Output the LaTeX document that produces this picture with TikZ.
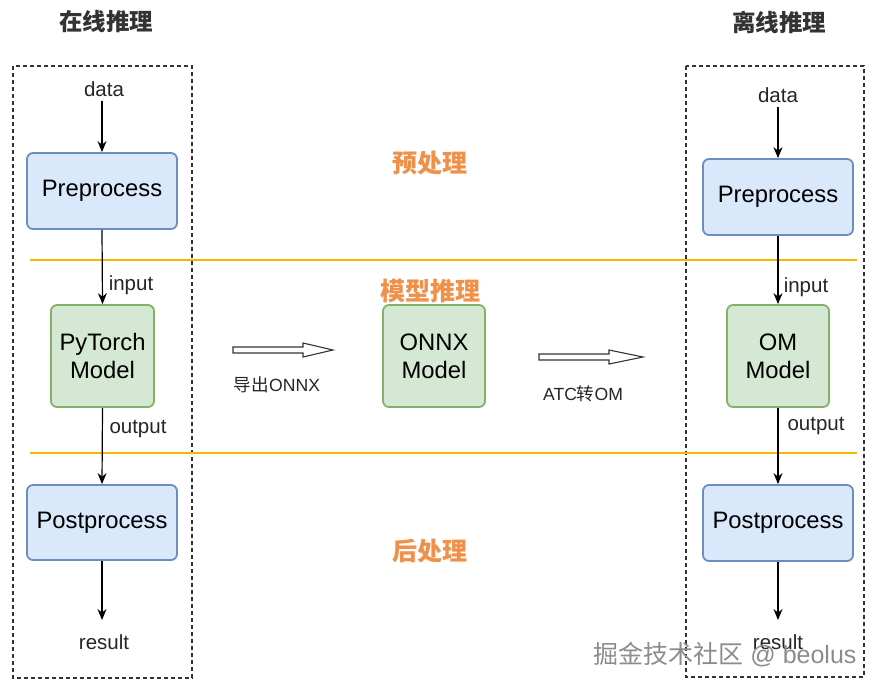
\documentclass[tikz,border=0pt]{standalone}
\usepackage{fontspec}
\setmainfont{Liberation Sans}
\newfontfamily\cjk{Noto Sans CJK SC}
\usetikzlibrary{arrows.meta}
\definecolor{bluefill}{HTML}{DAE8FC}
\definecolor{bluedraw}{HTML}{6C8EBF}
\definecolor{greenfill}{HTML}{D5E8D4}
\definecolor{greendraw}{HTML}{82B366}
\definecolor{sepline}{HTML}{F5B700}
\definecolor{orangetxt}{HTML}{F0914A}
\definecolor{titletxt}{HTML}{333333}
\tikzset{
  box/.style={draw, rounded corners=6pt, line width=1.8pt, inner sep=0pt, align=center,
              font=\fontsize{23.8}{28}\selectfont},
  bluebox/.style={box, fill=bluefill, draw=bluedraw},
  greenbox/.style={box, fill=greenfill, draw=greendraw},
  lbl/.style={font=\fontsize{20.5}{22}\selectfont, text=black!85, inner sep=0pt},
  conn/.style={line width=1.2pt, -{Stealth[length=11pt,width=9pt]}},
  frame/.style={draw=black!80, line width=1.3pt, dash pattern=on 4pt off 3pt},
  sep/.style={draw=sepline, line width=2pt},
  zone/.style={font=\cjk\bfseries\fontsize{25}{28}\selectfont, text=orangetxt},
  title/.style={font=\cjk\bfseries\fontsize{23.5}{27}\selectfont, text=titletxt},
  hollow/.style={draw=black!80, fill=white, line width=1.1pt},
  small/.style={font=\fontsize{17.6}{19}\selectfont, text=black!85}
}
\begin{document}
\begin{tikzpicture}[x=1pt,y=-1pt]
\useasboundingbox (0,0) rectangle (878,689);
\fill[white] (0,0) rectangle (878,689);

% titles
\node[title] (t1) at (106,22) {在线推理};
\node[title] (t2) at (779,22) {离线推理};

% frames
\draw[frame] (13,66) rectangle (192,678);
\draw[frame] (686,66) rectangle (864,677);

% separators
\coordinate (s1a) at (30,260); \coordinate (s1b) at (857,260);
\coordinate (s2a) at (30,453); \coordinate (s2b) at (857,453);
\draw[sep] (s1a) -- (s1b);
\draw[sep] (s2a) -- (s2b);

% zone labels
\node[zone] (z1) at (430,163) {预处理};
\node[zone] (z2) at (430,291) {模型推理};
\node[zone] (z3) at (430,551) {后处理};

% left column
\node[lbl] (ldata) at (104,89) {data};
\node[bluebox, minimum width=150pt, minimum height=76pt] (lpre) at (102,191) {Preprocess};
\node[greenbox, minimum width=103pt, minimum height=102pt] (lpt) at (102.5,356) {PyTorch\\Model};
\node[bluebox, minimum width=150pt, minimum height=75pt] (lpost) at (102,522.5) {Postprocess};
\node[lbl] (lres) at (104,642) {result};
\node[lbl] (lin) at (131,285) {input};
\node[lbl] (lout) at (138,429) {output};
\coordinate (lresend) at (102,620);
\draw[conn] (ldata.south -| lpre.north) ++(0,4) -- (lpre.north);
\draw[conn] (lpre.south) -- (lpt.north);
\draw[conn] (lpt.south) -- (lpost.north);
\draw[conn] (lpost.south) -- (lresend);

% right column
\node[lbl] (rdata) at (778,95) {data};
\node[bluebox, minimum width=150pt, minimum height=76pt] (rpre) at (778,197) {Preprocess};
\node[greenbox, minimum width=102pt, minimum height=102pt] (rom) at (778,356) {OM\\Model};
\node[bluebox, minimum width=150pt, minimum height=76pt] (rpost) at (778,523) {Postprocess};
\node[lbl] (rres) at (778,642) {result};
\node[lbl] (rin) at (806,287) {input};
\node[lbl] (rout) at (816,426) {output};
\coordinate (rresend) at (778,620);
\draw[conn] (rdata.south) ++(0,4) -- (rpre.north);
\draw[conn] (rpre.south) -- (rom.north);
\draw[conn] (rom.south) -- (rpost.north);
\draw[conn] (rpost.south) -- (rresend);

% middle
\node[greenbox, minimum width=102pt, minimum height=102pt] (onnx) at (434,356) {ONNX\\Model};

% hollow arrows
\draw[hollow] (233,347) -- (303,347) -- (303,343) -- (333,350) -- (303,357) -- (303,353) -- (233,353) -- cycle;
\node[small] (e1) at (277,385) {{\cjk 导出}ONNX};
\draw[hollow] (539,354) -- (609,354) -- (609,350) -- (643,357) -- (609,364) -- (609,360) -- (539,360) -- cycle;
\node[small] (e2) at (583,394) {ATC{\cjk 转}OM};

% watermark
\node[font=\fontsize{25}{28}\selectfont, text=black!45] (wm) at (725,655) {{\cjk 掘金技术社区} @ beolus};
\end{tikzpicture}
\end{document}
